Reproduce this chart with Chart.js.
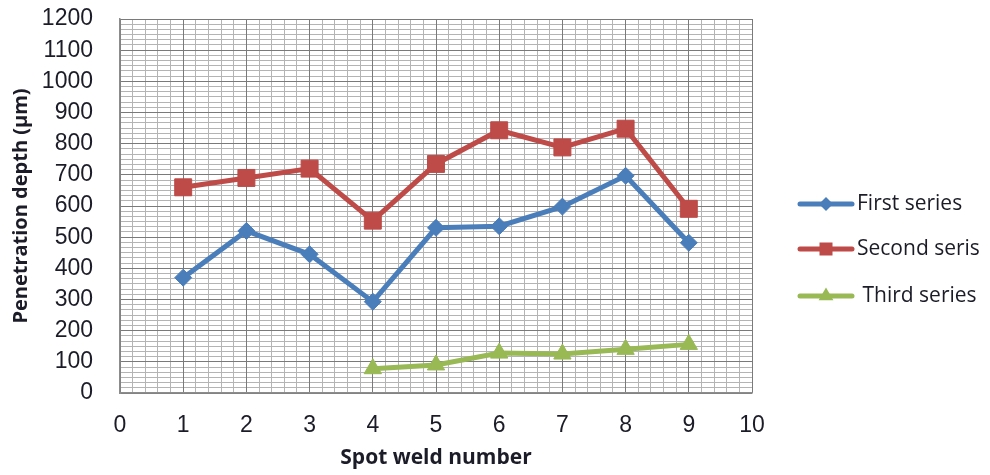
<!DOCTYPE html>
<html>
<head>
<meta charset="utf-8">
<title>Penetration depth by spot weld</title>
<script src="https://cdn.jsdelivr.net/npm/chart.js@4/dist/chart.umd.min.js"></script>
<style>
  html, body { margin: 0; padding: 0; background: #ffffff; }
  #wrap { width: 990px; height: 475px; position: relative; }
</style>
</head>
<body>
<div id="wrap"><canvas id="chart" width="990" height="475"></canvas></div>
<script>
// Spot weld numbers (x positions)
const spotWelds = [1, 2, 3, 4, 5, 6, 7, 8, 9];

// Penetration depth in micrometres for each series
const firstSeries  = [370, 520, 445, 293, 530, 535, 598, 697, 482];
const secondSeries = [660, 690, 720, 553, 735, 843, 788, 848, 591];
const thirdSeries  = [null, null, null, 78, 90, 128, 125, 140, 156];

const seriesNames = ['First series', 'Second seris', ' Third series'];

// Axis tick settings
const xTickMin = 0, xTickMax = 10, xTickStep = 1, xMinorStep = 0.2;
const yTickMin = 0, yTickMax = 1200, yTickStep = 100, yMinorStep = 100 / 6;

const COLORS = { blue: '#4a7ebb', red: '#be4b48', green: '#98b954' };
const TEXT_COLOR = '#1c1c28';
const TICK_FONT = { family: '"Liberation Sans", Arial, sans-serif', size: 23 };

function toPoints(values) {
  const pts = [];
  values.forEach((v, i) => { if (v !== null) pts.push({ x: spotWelds[i], y: v }); });
  return pts;
}

// Legend drawn to the right of the plot: line segment with marker, then label
const sideLegend = {
  id: 'sideLegend',
  afterDraw(chart) {
    const ctx = chart.ctx;
    const rows = [204, 249, 296];
    const x0 = 800, x1 = 852, tx = 857;
    ctx.save();
    chart.data.datasets.forEach((ds, i) => {
      const y = rows[i];
      ctx.strokeStyle = ds.borderColor;
      ctx.lineWidth = 5;
      ctx.lineCap = 'round';
      ctx.beginPath(); ctx.moveTo(x0, y); ctx.lineTo(x1, y); ctx.stroke();
      const cx = (x0 + x1) / 2;
      ctx.fillStyle = ds.borderColor;
      ctx.beginPath();
      if (ds.pointStyle === 'rectRot') {
        const r = 7;
        ctx.moveTo(cx - r, y); ctx.lineTo(cx, y - r); ctx.lineTo(cx + r, y); ctx.lineTo(cx, y + r);
      } else if (ds.pointStyle === 'rect') {
        const s = 6.5;
        ctx.rect(cx - s, y - s, 2 * s, 2 * s);
      } else {
        const r = 8.5;
        ctx.moveTo(cx, y - r); ctx.lineTo(cx + r * 0.87, y + r * 0.5); ctx.lineTo(cx - r * 0.87, y + r * 0.5);
      }
      ctx.closePath(); ctx.fill();
      ctx.fillStyle = TEXT_COLOR;
      ctx.font = '21px "Open Sans", sans-serif';
      ctx.textAlign = 'left';
      ctx.textBaseline = 'middle';
      ctx.fillText(ds.label, tx, y);
    });
    ctx.restore();
  }
};

const chart = new Chart(document.getElementById('chart'), {
  type: 'line',
  data: {
    datasets: [
      {
        label: seriesNames[0], data: toPoints(firstSeries),
        borderColor: COLORS.blue, backgroundColor: COLORS.blue, borderWidth: 5,
        pointStyle: 'rectRot', pointRadius: 8.5, pointBorderWidth: 1
      },
      {
        label: seriesNames[1], data: toPoints(secondSeries),
        borderColor: COLORS.red, backgroundColor: COLORS.red, borderWidth: 5,
        pointStyle: 'rect', pointRadius: 12, pointBorderWidth: 1
      },
      {
        label: seriesNames[2], data: toPoints(thirdSeries),
        borderColor: COLORS.green, backgroundColor: COLORS.green, borderWidth: 5,
        pointStyle: 'triangle', pointRadius: 10, pointBorderWidth: 1
      }
    ]
  },
  options: {
    responsive: false,
    animation: false,
    events: [],
    layout: { padding: { top: 19, right: 238, bottom: 0, left: 0 } },
    plugins: { legend: { display: false }, tooltip: { enabled: false } },
    scales: {
      xMinor: {
        type: 'linear', position: 'bottom', min: xTickMin, max: xTickMax,
        ticks: { display: false, stepSize: xMinorStep },
        grid: { color: '#b4b4b4', lineWidth: 1, drawTicks: false, z: -2 },
        border: { display: false }
      },
      yMinor: {
        type: 'linear', position: 'left', min: yTickMin, max: yTickMax,
        ticks: { display: false, stepSize: yMinorStep },
        grid: { color: '#b4b4b4', lineWidth: 1, drawTicks: false, z: -2 },
        border: { display: false }
      },
      x: {
        type: 'linear', position: 'bottom', min: xTickMin, max: xTickMax,
        ticks: { stepSize: xTickStep, font: TICK_FONT, color: TEXT_COLOR, padding: 3, autoSkip: false },
        grid: { color: '#7a7a7a', lineWidth: 1, drawTicks: true, tickLength: 16, tickColor: 'rgba(0,0,0,0)', z: -1 },
        border: { color: '#8c8c8c', width: 1.5 },
        title: {
          display: true, text: 'Spot weld number', color: TEXT_COLOR, padding: { top: 8 },
          font: { family: '"Open Sans", sans-serif', size: 21, weight: 'bold' }
        },
        afterFit(scale) { scale.height = 82; }
      },
      y: {
        type: 'linear', position: 'left', min: yTickMin, max: yTickMax,
        ticks: {
          stepSize: yTickStep, font: TICK_FONT, color: TEXT_COLOR, padding: 3, autoSkip: false,
          callback: (v) => String(v)
        },
        grid: { color: '#7a7a7a', lineWidth: 1, drawTicks: true, tickLength: 24, tickColor: 'rgba(0,0,0,0)', z: -1 },
        border: { color: '#8c8c8c', width: 1.5 },
        title: {
          display: true, text: 'Penetration depth (µm)', color: TEXT_COLOR, padding: { top: 9, bottom: 0 },
          font: { family: '"Open Sans", sans-serif', size: 20, weight: 'bold' }
        },
        afterFit(scale) { scale.width = 120; }
      }
    }
  },
  plugins: [sideLegend]
});
</script>
</body>
</html>
